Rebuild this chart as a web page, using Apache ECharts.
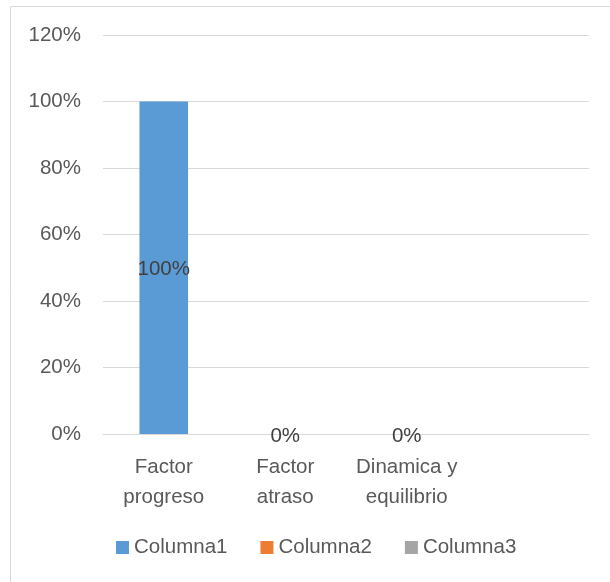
<!DOCTYPE html>
<html>
<head>
<meta charset="utf-8">
<script src="https://cdn.jsdelivr.net/npm/echarts@6/dist/echarts.min.js"></script>
<style>
html,body{margin:0;padding:0;background:#fff;}
#c{width:610px;height:582px;}
</style>
</head>
<body>
<div id="c"></div>
<script>
var categories = ['Factor\nprogreso', 'Factor\natraso', 'Dinamica y\nequilibrio', ''];
var seriesNames = ['Columna1', 'Columna2', 'Columna3'];
var columna1 = [1, null, null, null];
var columna2 = [null, 0, null, null];
var columna3 = [null, null, 0, null];
var yTicks = { min: 0, max: 1.2, interval: 0.2 };
var colors = ['#5B9BD5', '#ED7D31', '#A5A5A5'];

var FONT = 'Liberation Sans';
var FS = 20.5;
var chart = echarts.init(document.getElementById('c'));
function pct(v) { return Math.round(v * 100) + '%'; }
var lbl = {
  show: true, position: 'inside', color: '#404040',
  fontFamily: FONT, fontSize: FS, offset: [0, 2],
  formatter: function (p) { return p.value == null ? '' : pct(p.value); }
};
var allData = [columna1, columna2, columna3];
chart.setOption({
  animation: false,
  color: colors,
  graphic: [{
    type: 'rect', silent: true,
    shape: { x: 10.5, y: 6.5, width: 700, height: 700 },
    style: { fill: 'none', stroke: '#d9d9d9', lineWidth: 1 }
  }],
  grid: { left: 103, right: 21, top: 35, bottom: 148, containLabel: false },
  legend: {
    data: seriesNames, left: 116, top: 537, padding: 0,
    itemWidth: 13, itemHeight: 13, itemGap: 33,
    icon: 'rect',
    textStyle: { color: '#595959', fontFamily: FONT, fontSize: FS }
  },
  xAxis: {
    type: 'category', data: categories,
    axisLine: { lineStyle: { color: '#d9d9d9', width: 1 } },
    axisTick: { show: false },
    axisLabel: { color: '#595959', fontFamily: FONT, fontSize: FS, lineHeight: 30, margin: 18, interval: 0 }
  },
  yAxis: {
    type: 'value', min: yTicks.min, max: yTicks.max, interval: yTicks.interval,
    axisLine: { show: false }, axisTick: { show: false },
    splitLine: { lineStyle: { color: '#d9d9d9', width: 1 } },
    axisLabel: { color: '#595959', fontFamily: FONT, fontSize: FS, margin: 22, formatter: pct }
  },
  series: seriesNames.map(function (n, i) {
    return {
      name: n, type: 'bar', stack: 'total', data: allData[i],
      barWidth: '40%', label: lbl
    };
  })
});
</script>
</body>
</html>
